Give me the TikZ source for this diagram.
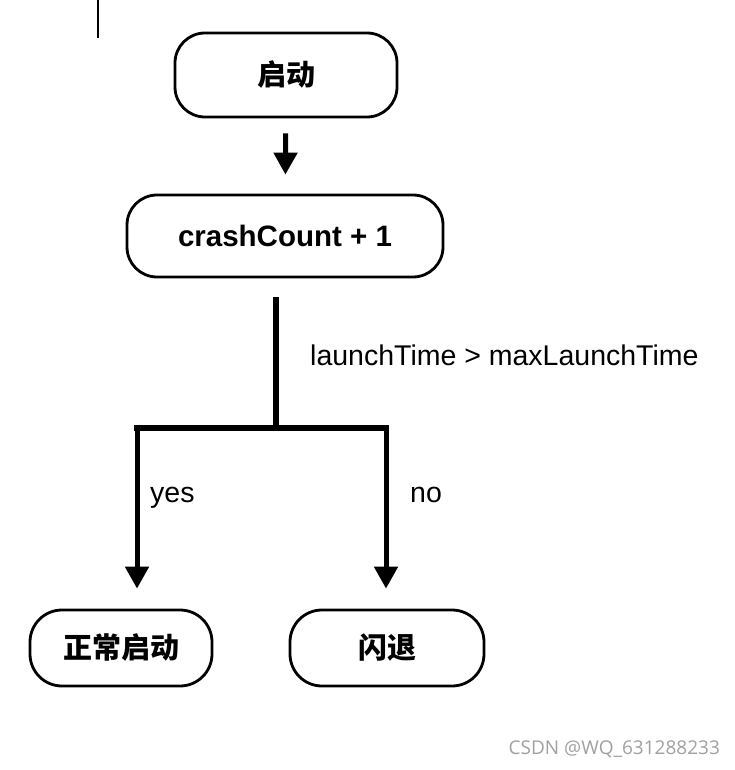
\documentclass[tikz,border=0pt]{standalone}
\usepackage{fontspec}
\setmainfont{Liberation Sans}
\newfontfamily\cjk{Noto Sans CJK SC}
\newfontfamily\markfont{Open Sans}
\usepackage{tikz}
\usetikzlibrary{arrows.meta,positioning}
\definecolor{ink}{HTML}{000000}
\definecolor{mark}{HTML}{A0A0A0}
\tikzset{
  term/.style={rectangle, rounded corners=30pt, draw=ink, line width=2.8pt, fill=white,
               align=center, inner sep=0pt, font=\fontsize{29.5}{32}\selectfont\bfseries},
  fl/.style={-{Triangle[length=22pt, width=23pt]}, draw=ink, line width=5pt},
  link/.style={draw=ink, line width=5.5pt, line cap=rect},
  lbl/.style={font=\fontsize{28.5}{32}\selectfont, text=ink, anchor=base west, inner sep=0pt}
}
\newcommand{\zh}[1]{{\cjk\fontsize{29}{32}\selectfont\bfseries #1}}
\begin{document}
\begin{tikzpicture}[x=1pt, y=-1pt]
  \useasboundingbox (0,0) rectangle (734,770);
  \draw[line width=2pt] (98,0) -- (98,38);
  \node[term, minimum width=222pt, minimum height=84pt] (start) at (286,75) {\zh{启动}};
  \node[term, minimum width=316pt, minimum height=82pt] (crash) at (285,236) {crashCount + 1};
  \node[term, minimum width=182pt, minimum height=76pt, rounded corners=32pt] (normal) at (121,648) {\zh{正常启动}};
  \node[term, minimum width=194pt, minimum height=76pt, rounded corners=32pt] (flash) at (387,648) {\zh{闪退}};
  \coordinate (split) at (276,428);
  \coordinate (yesturn) at (137,428);
  \coordinate (noturn) at (386,428);
  \draw[fl, shorten <=15pt, shorten >=19pt] (start) -- (crash);
  \draw[link, line cap=butt, shorten <=19pt] (split |- crash.south) -- (split);
  \draw[link] (yesturn) -- (noturn);
  \draw[fl, shorten >=20pt] (yesturn) -- (yesturn |- normal.north);
  \draw[fl, shorten >=20pt] (noturn) -- (noturn |- flash.north);
  \node[lbl] (cond) at (310,365) {launchTime > maxLaunchTime};
  \node[lbl] (yes) at (150,502) {yes};
  \node[lbl] (no) at (410,502) {no};
  \node[font=\markfont\fontsize{19}{22}\selectfont, text=mark, anchor=east, inner sep=0pt] (wm) at (720,749) {CSDN @WQ\_631288233};
\end{tikzpicture}
\end{document}
